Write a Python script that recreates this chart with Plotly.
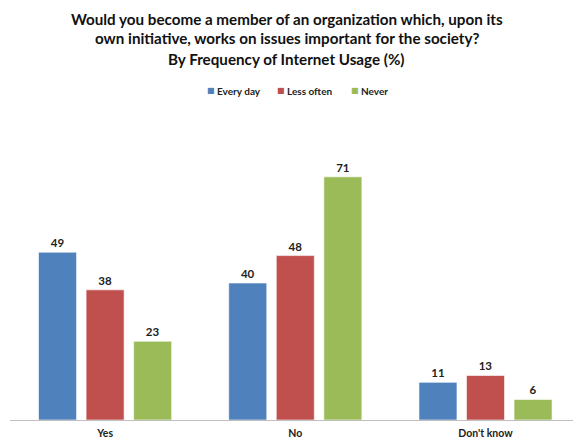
import plotly.graph_objects as go

categories = ["Yes", "No", "Don't know"]
series_names = ["Every day", "Less often", "Never"]
every_day = [49, 40, 11]
less_often = [38, 48, 13]
never = [23, 71, 6]
colors = ["#4F81BD", "#C0504D", "#9BBB59"]

title_lines = [
    "Would you become a member of an organization which, upon its",
    "own initiative, works on issues important for the society?",
    "By Frequency of Internet Usage (%)",
]

FONT = "Lato"
W, H = 573, 443
M_L, M_R, M_T, M_B = 10, 0, 146, 23
PLOT_W = W - M_L - M_R
PLOT_H = H - M_T - M_B


def px_x(px):
    return (px - M_L) / PLOT_W


def px_y(py):
    return (H - M_B - py) / PLOT_H


fig = go.Figure()
for name, vals, col in zip(series_names, [every_day, less_often, never], colors):
    fig.add_trace(go.Bar(
        x=categories, y=vals, name=name,
        marker=dict(color=col, line=dict(color="rgba(255,255,255,0.6)", width=1)),
        text=[str(v) for v in vals], textposition="outside",
        textfont=dict(family=FONT, size=11.5, color="#222222", weight="bold"),
        cliponaxis=False, showlegend=False,
    ))

annotations = []
# title, one line at a time
for line, py in zip(title_lines, [18.5, 38.5, 58.5]):
    annotations.append(dict(
        text=line, xref="paper", yref="paper", x=px_x(286.5), y=px_y(py),
        xanchor="center", yanchor="middle", showarrow=False,
        font=dict(family=FONT, size=15.2, color="#111111", weight="bold"),
    ))

# legend: coloured square followed by the series name
legend_x = [205, 275, 349]
for name, col, lx in zip(series_names, colors, legend_x):
    annotations.append(dict(
        text=f"<span style='color:{col}'>■</span>", xref="paper", yref="paper",
        x=px_x(lx), y=px_y(90.5), xanchor="left", yanchor="middle",
        showarrow=False, font=dict(family="DejaVu Sans", size=8),
    ))
    annotations.append(dict(
        text=name, xref="paper", yref="paper",
        x=px_x(lx + 10), y=px_y(90.5), xanchor="left", yanchor="middle",
        showarrow=False,
        font=dict(family=FONT, size=10, color="#222222", weight="bold"),
    ))

fig.update_layout(
    width=W, height=H,
    margin=dict(l=M_L, r=M_R, t=M_T, b=M_B),
    paper_bgcolor="white", plot_bgcolor="white",
    barmode="group", bargap=0.25, bargroupgap=0.2,
    annotations=annotations,
    xaxis=dict(
        range=[-0.5, 2.46], showline=True, linecolor="#BFBFBF", linewidth=1,
        ticks="", showgrid=False, ticklabelstandoff=3,
        tickfont=dict(family=FONT, size=10.5, color="#222222", weight="bold"),
    ),
    yaxis=dict(range=[0, 80], visible=False, showgrid=False),
    showlegend=False,
)

fig.write_html("out.html")
